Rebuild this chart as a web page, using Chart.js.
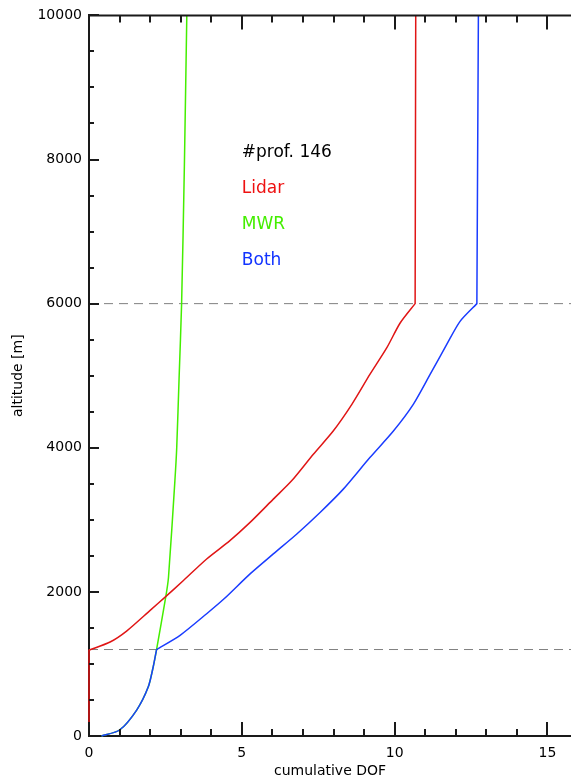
<!DOCTYPE html>
<html>
<head>
<meta charset="utf-8">
<script src="https://cdn.jsdelivr.net/npm/chart.js@4.4.1/dist/chart.umd.min.js"></script>
<style>
  html, body { margin: 0; padding: 0; background: #fff; }
  #wrap { width: 571px; height: 778px; }
</style>
</head>
<body>
<div id="wrap"><canvas id="dofChart" width="571" height="778"></canvas></div>
<script>
// cumulative DOF vs altitude
// (a corner is listed twice so the smoothed line keeps its kink there)
const lidarDof = [0, 0, 0, 0.69, 1.23, 2.0, 2.49, 3.09, 3.85, 4.61, 5.27, 6.03, 6.63, 7.34, 7.99, 8.6, 9.19, 9.74, 10.18, 10.67, 10.67, 10.69];
const lidarAlt = [0, 1190, 1190, 1304, 1456, 1743, 1927, 2158, 2457, 2711, 2964, 3287, 3541, 3910, 4232, 4602, 5017, 5385, 5731, 6000, 6000, 10000];

const mwrDof = [0.41, 1.0, 1.56, 1.94, 2.1, 2.21, 2.51, 2.6, 2.81, 2.87, 2.95, 3.03, 3.12, 3.2];
const mwrAlt = [0, 83, 360, 682, 958, 1200, 1927, 2200, 3541, 4000, 5000, 6000, 7900, 10000];

const bothDof = [0.41, 1.0, 1.56, 1.94, 2.1, 2.21, 2.21, 2.98, 3.85, 4.42, 5.27, 6.03, 6.80, 7.56, 8.32, 9.19, 9.96, 10.61, 11.16, 11.7, 12.14, 12.69, 12.69, 12.74];
const bothAlt = [0, 83, 360, 682, 958, 1200, 1200, 1397, 1697, 1904, 2250, 2527, 2804, 3102, 3426, 3864, 4232, 4602, 5017, 5431, 5754, 6000, 6000, 10000];

// dashed reference altitudes
const refAltitudes = [1200, 6000];

// axis ticks
const xMajorTicks = [0, 5, 10, 15];
const xMinorTicks = [1, 2, 3, 4, 6, 7, 8, 9, 11, 12, 13, 14];
const yMajorTicks = [0, 2000, 4000, 6000, 8000, 10000];
const yMinorTicks = [500, 1000, 1500, 2500, 3000, 3500, 4500, 5000, 5500, 6500, 7000, 7500, 8500, 9000, 9500];

// annotation text block
const noteTexts = ['#prof. 146', 'Lidar', 'MWR', 'Both'];
const noteColors = ['#000000', '#ee1111', '#44ee00', '#1133ff'];
const noteX = 5.0;
const noteAlt = [8030, 7530, 7030, 6530];

const X_MAX = 15.77;
const AXIS_COLOR = '#1a1a1a';

const toPoints = (xs, ys) => xs.map((x, i) => ({ x: x, y: ys[i] }));

const refSets = refAltitudes.map((alt) => ({
  data: [{ x: 0, y: alt }, { x: X_MAX, y: alt }],
  borderColor: '#808080',
  borderWidth: 1,
  borderDash: [9, 6],
  pointRadius: 0,
  showLine: true,
  tension: 0,
  order: 5,
}));

// inward ticks, top axis line and text block
const frameTicks = {
  id: 'frameTicks',
  afterDraw(chart) {
    const { ctx, chartArea } = chart;
    const xs = chart.scales.x;
    const ys = chart.scales.y;
    ctx.save();
    ctx.strokeStyle = AXIS_COLOR;
    ctx.lineWidth = 2;

    // top axis
    ctx.beginPath();
    ctx.moveTo(chartArea.left, chartArea.top);
    ctx.lineTo(chartArea.right, chartArea.top);
    ctx.stroke();

    const xTick = (v, len) => {
      const px = Math.round(xs.getPixelForValue(v));
      ctx.beginPath();
      ctx.moveTo(px, chartArea.bottom);
      ctx.lineTo(px, chartArea.bottom - len);
      ctx.moveTo(px, chartArea.top);
      ctx.lineTo(px, chartArea.top + len);
      ctx.stroke();
    };
    xMajorTicks.forEach((v) => xTick(v, 14));
    xMinorTicks.forEach((v) => xTick(v, 7));

    const yTick = (v, len) => {
      const py = Math.round(ys.getPixelForValue(v));
      ctx.beginPath();
      ctx.moveTo(chartArea.left, py);
      ctx.lineTo(chartArea.left + len, py);
      ctx.stroke();
    };
    yMajorTicks.forEach((v) => yTick(v, 10));
    yMinorTicks.forEach((v) => yTick(v, 5));

    // text block
    ctx.font = '17px "DejaVu Sans"';
    ctx.textAlign = 'left';
    ctx.textBaseline = 'alphabetic';
    noteTexts.forEach((t, i) => {
      ctx.fillStyle = noteColors[i];
      ctx.fillText(t, xs.getPixelForValue(noteX), ys.getPixelForValue(noteAlt[i]));
    });
    ctx.restore();
  },
};

const curve = (label, xs, ys, color, order) => ({
  label: label,
  data: toPoints(xs, ys),
  borderColor: color,
  borderWidth: 1.5,
  pointRadius: 0,
  showLine: true,
  tension: 0.25,
  clip: false,
  order: order,
});

const ctx = document.getElementById('dofChart').getContext('2d');
new Chart(ctx, {
  type: 'scatter',
  data: {
    datasets: [
      curve('Both', bothDof, bothAlt, '#1a3cff', 0),
      curve('Lidar', lidarDof, lidarAlt, '#e01515', 1),
      curve('MWR', mwrDof, mwrAlt, '#44ee00', 2),
      ...refSets,
    ],
  },
  options: {
    responsive: false,
    animation: false,
    layout: { padding: { top: 13, right: 0, left: 0, bottom: 0 } },
    plugins: {
      legend: { display: false },
      tooltip: { enabled: false },
    },
    scales: {
      x: {
        type: 'linear',
        min: 0,
        max: X_MAX,
        grid: { display: false, drawTicks: false },
        border: { display: true, color: AXIS_COLOR, width: 2, z: -1 },
        afterBuildTicks: (scale) => {
          scale.ticks = xMajorTicks.map((v) => ({ value: v }));
        },
        afterFit: (scale) => { scale.height = 42; },
        ticks: {
          autoSkip: false,
          maxRotation: 0,
          padding: 9,
          color: '#000',
          font: { family: 'DejaVu Sans', size: 14 },
          callback: (v) => String(v),
        },
        title: {
          display: true,
          text: 'cumulative DOF',
          color: '#000',
          font: { family: 'DejaVu Sans', size: 14, lineHeight: 1.0 },
          padding: { top: 0, bottom: 0 },
        },
      },
      y: {
        type: 'linear',
        min: 0,
        max: 10000,
        grid: { display: false, drawTicks: false },
        border: { display: true, color: AXIS_COLOR, width: 2, z: -1 },
        afterBuildTicks: (scale) => {
          scale.ticks = yMajorTicks.map((v) => ({ value: v }));
        },
        afterFit: (scale) => { scale.width = 89; },
        ticks: {
          autoSkip: false,
          padding: 7,
          color: '#000',
          font: { family: 'DejaVu Sans', size: 14 },
          callback: (v) => String(v),
        },
        title: {
          display: true,
          text: 'altitude [m]',
          color: '#000',
          font: { family: 'DejaVu Sans', size: 14, lineHeight: 1.2 },
          padding: { top: 10, bottom: 0 },
        },
      },
    },
  },
  plugins: [frameTicks],
});
</script>
</body>
</html>
